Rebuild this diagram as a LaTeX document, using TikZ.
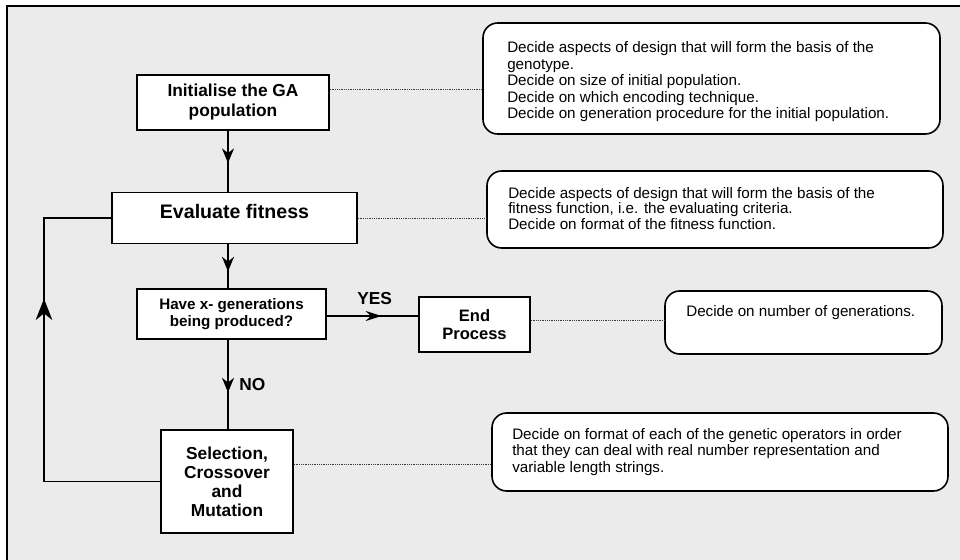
\documentclass[tikz,border=0pt]{standalone}
\usepackage{fontspec}
\setmainfont{Liberation Sans}
\usetikzlibrary{arrows.meta,decorations.markings}
\definecolor{bg}{RGB}{235,235,235}
\definecolor{dotc}{RGB}{60,60,60}
\begin{document}
\begin{tikzpicture}[x=0.75pt,y=-0.75pt,
 box/.style={draw=black, fill=white, line width=1.25pt, align=center, inner sep=0pt},
 note/.style={draw=black, fill=white, line width=1.2pt, rounded corners=11pt, inner sep=0pt},
 notetext/.style={anchor=north west, align=left, inner sep=0pt},
 conn/.style={line width=1.2pt},
 dotline/.style={draw=dotc, line width=0.75pt, dash pattern=on 0.75pt off 0.6pt},
 lbl/.style={anchor=base west, inner sep=0pt, font=\bfseries\fontsize{13}{15}\selectfont},
 midarrow/.style={postaction={decorate}, decoration={markings, mark=at position #1 with {\arrow{Stealth[length=11pt,width=9pt,inset=3.5pt]}}}},
 uparrow/.style={postaction={decorate}, decoration={markings, mark=at position #1 with {\arrow{Stealth[length=16pt,width=12.5pt,inset=5pt]}}}},
 sidearrow/.style={postaction={decorate}, decoration={markings, mark=at position #1 with {\arrow{Stealth[length=12pt,width=7.5pt,inset=4pt]}}}},
]
\useasboundingbox (0,0) rectangle (960,560);
\fill[bg] (7,6) rectangle (960,560);
\draw[line width=1.5pt] (7,560) -- (7,6) -- (960,6);

% helper coordinates
\coordinate (ax) at (228,0);
\coordinate (lx) at (44,0);
\coordinate (d1) at (0,90);
\coordinate (d3) at (0,320);
\coordinate (d4) at (0,464);
\coordinate (dy) at (0,316);

% flow boxes
\node[box, minimum width=144pt, minimum height=41.25pt, font=\bfseries\fontsize{13}{15}\selectfont] (init) at (233,102.5) {Initialise the GA\\population};
\node[box, minimum width=183.75pt, minimum height=38.25pt, text height=10pt, text depth=10pt, font=\bfseries\fontsize{14.7}{17}\selectfont] (eval) at (234.5,218) {Evaluate fitness};
\node[box, minimum width=141.75pt, minimum height=37.5pt, font=\bfseries\fontsize{11.4}{12.2}\selectfont] (have) at (231.5,314) {Have x- generations\\being produced?};
\node[box, minimum width=83.25pt, minimum height=41.25pt, font=\bfseries\fontsize{12.4}{13.2}\selectfont] (end) at (474.5,324.5) {End\\Process};
\node[box, minimum width=99pt, minimum height=77.25pt, font=\bfseries\fontsize{13}{14.3}\selectfont] (sel) at (227,481.5) {Selection,\\Crossover\\and\\Mutation};

% notes
\node[note, minimum width=342.75pt, minimum height=83.25pt] (n1) at (711.5,78.5) {};
\node[note, minimum width=342pt, minimum height=57.75pt] (n2) at (715,209.5) {};
\node[note, minimum width=207.75pt, minimum height=47.25pt] (n3) at (803.5,322.5) {};
\node[note, minimum width=342pt, minimum height=58.5pt] (n4) at (720,452) {};

\node[notetext, font=\fontsize{11.4}{12.4}\selectfont] (t1) at (507,41.5) {Decide aspects of design that will form the basis of the\\genotype.\\Decide on size of initial population.\\Decide on which encoding technique.\\Decide on generation procedure for the initial population.};
\node[notetext, font=\fontsize{11.4}{11.4}\selectfont] (t2) at (508,187.5) {Decide aspects of design that will form the basis of the\\fitness function, i.e. the evaluating criteria.\\Decide on format of the fitness function.};
\node[notetext, font=\fontsize{11.4}{12.4}\selectfont] (t3) at (686,305) {Decide on number of generations.};
\node[notetext, font=\fontsize{11.4}{12.4}\selectfont] (t4) at (512,428) {Decide on format of each of the genetic operators in order\\that they can deal with real number representation and\\variable length strings.};

% connectors
\draw[conn, midarrow=0.53] (init.south -| ax) -- (eval.north -| ax);
\draw[conn, midarrow=0.62] (eval.south -| ax) -- (have.north -| ax);
\draw[conn, midarrow=0.59] (have.south -| ax) -- (sel.north -| ax);
\draw[conn, sidearrow=0.6] (have.east |- dy) -- (end.west |- dy);
\draw[conn, uparrow=0.669] (sel.west) -- (sel.west -| lx) |- (eval.west);

% labels
\node[lbl] (yes) at (357,304) {YES};
\node[lbl] (no) at (239,390) {NO};

% dotted links
\draw[dotline] (init.east |- d1) -- (n1.west |- d1);
\draw[dotline] (eval.east) -- (n2.west |- eval.east);
\draw[dotline] (end.east |- d3) -- (n3.west |- d3);
\draw[dotline] (sel.east |- d4) -- (n4.west |- d4);
\end{tikzpicture}
\end{document}
